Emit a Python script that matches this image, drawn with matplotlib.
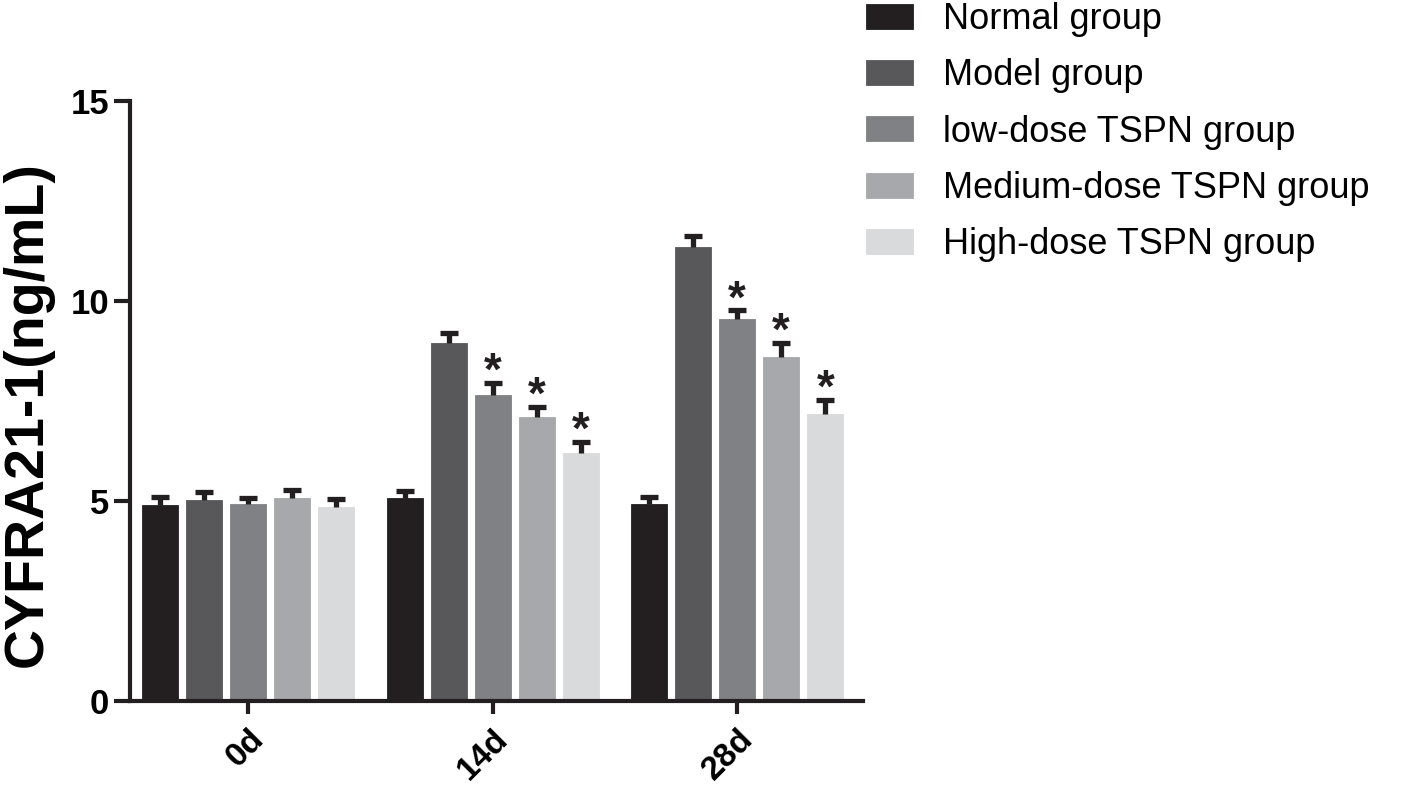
import matplotlib
matplotlib.use("Agg")
import matplotlib.pyplot as plt
import numpy as np

plt.rcParams['font.family'] = ['Liberation Sans', 'DejaVu Sans']

timepoints = ["0d", "14d", "28d"]
groups = ["Normal group", "Model group", "low-dose TSPN group",
          "Medium-dose TSPN group", "High-dose TSPN group"]
colors = ["#231f20", "#58585a", "#808184", "#a7a8ac", "#d9dadc"]

normal = [4.90, 5.07, 4.93]
model = [5.03, 8.95, 11.35]
low_dose = [4.93, 7.65, 9.55]
medium_dose = [5.08, 7.10, 8.60]
high_dose = [4.85, 6.20, 7.18]

normal_err = [0.20, 0.18, 0.18]
model_err = [0.20, 0.25, 0.27]
low_err = [0.15, 0.30, 0.22]
medium_err = [0.20, 0.25, 0.35]
high_err = [0.20, 0.28, 0.35]

# significance markers (1 = star)
low_sig = [0, 1, 1]
medium_sig = [0, 1, 1]
high_sig = [0, 1, 1]

values = [normal, model, low_dose, medium_dose, high_dose]
errors = [normal_err, model_err, low_err, medium_err, high_err]
sigs = [[0, 0, 0], [0, 0, 0], low_sig, medium_sig, high_sig]

fig = plt.figure(figsize=(14.18, 7.89), dpi=100)
ax = fig.add_axes([0.0917, 0.1115, 0.5169, 0.7605])

x = np.arange(len(timepoints))
step = 0.18
width = 0.147
for i, (vals, errs, sg, c) in enumerate(zip(values, errors, sigs, colors)):
    xs = x + (i - 2) * step
    vals = np.array(vals)
    errs = np.array(errs)
    ax.bar(xs, vals, width=width, color=c, edgecolor=c, linewidth=0.6,
           label=groups[i], zorder=2)
    ax.errorbar(xs, vals, yerr=[np.zeros_like(errs), errs], fmt='none',
                ecolor='#231f20', elinewidth=3.8, capsize=0, zorder=3)
    ax.plot(xs, vals + errs, linestyle='none', marker='_', markersize=13,
            markeredgewidth=3.8, color='#231f20', zorder=3)
    for xi, v, e, s in zip(xs, vals, errs, sg):
        if s:
            ax.text(xi, v + e - 0.05, "*", ha='center', va='baseline',
                    fontsize=33, fontweight='bold', color='#231f20')

ax.set_xlim(-0.482, 2.514)
ax.set_ylim(0, 15)
ax.set_yticks([0, 5, 10, 15])
ax.set_xticks(x)
ax.set_xticklabels(timepoints, rotation=45, ha='right', va='top',
                   rotation_mode='anchor', fontsize=24, fontweight='bold')
for lab in ax.get_yticklabels():
    lab.set_fontsize(25)
    lab.set_fontweight('bold')
ax.tick_params(axis='y', length=11.5, width=3.0, pad=3.5, color='#231f20')
ax.tick_params(axis='x', length=9, width=3.0, pad=7, color='#231f20')
for side in ['top', 'right']:
    ax.spines[side].set_visible(False)
for side in ['left', 'bottom']:
    ax.spines[side].set_linewidth(3.0)
    ax.spines[side].set_color('#231f20')

ax.set_ylabel("CYFRA21-1(ng/mL)", fontsize=40, fontweight='bold')
ax.yaxis.set_label_coords(-0.104, 0.478)

handles, labels = ax.get_legend_handles_labels()
leg = fig.legend(handles, labels, loc='upper left',
                 bbox_to_anchor=(866 / 1418, 0.9975), frameon=False,
                 fontsize=26, handlelength=1.3, handleheight=0.69,
                 handletextpad=0.83, labelspacing=0.59, borderpad=0,
                 borderaxespad=0)

fig.savefig("out.png", dpi=100)
